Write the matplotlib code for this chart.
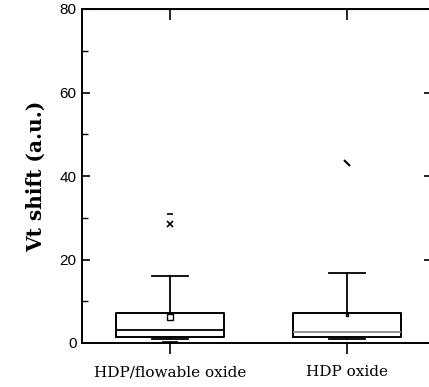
import matplotlib
matplotlib.use("Agg")
import matplotlib.pyplot as plt
from matplotlib.markers import MarkerStyle
from matplotlib.transforms import Affine2D

# box statistics
groups = ['HDP/flowable oxide', 'HDP oxide']
q1 = [1.4, 1.4]
med = [3.1, 2.6]
q3 = [7.2, 7.2]
whislo = [1.0, 1.0]
whishi = [16.0, 16.8]
means = [6.2, 6.7]
pct99 = [28.5]
maxes = [31.0, 43.1]
mins = [0.3]

pos = [1, 2]

fig = plt.figure(figsize=(4.29, 3.87), dpi=100)
ax = fig.add_axes([82/429, 44/387, 350/429, 334/387])

stats = []
for i in range(len(groups)):
    stats.append(dict(q1=q1[i], med=med[i], q3=q3[i], whislo=whislo[i],
                      whishi=whishi[i], mean=means[i], fliers=[]))

bp = ax.bxp(stats, positions=pos, widths=0.605, showmeans=True,
            showfliers=False, patch_artist=False,
            boxprops=dict(color='black', lw=1.4),
            whiskerprops=dict(color='black', lw=1.3),
            capprops=dict(color='black', lw=1.3),
            medianprops=dict(color='black', lw=1.3),
            meanprops=dict(marker='s', markerfacecolor='white',
                           markeredgecolor='black', markersize=4))
bp['medians'][1].set_color('#888888')
bp['means'][1].set_markersize(2)
for c in bp['caps']:
    c.set_xdata([c.get_xdata()[0] + 0.05, c.get_xdata()[1] - 0.05])

# extreme markers
ax.plot(pos[0], pct99[0], 'x', color='black', ms=4, mew=1.2)
ax.plot(pos[0], maxes[0], '_', color='black', ms=5, mew=1.2)
ax.plot(pos[0], mins[0], '_', color='black', ms=12, mew=1.2, clip_on=False)
slash = MarkerStyle('|', transform=Affine2D().rotate_deg(45))
ax.plot(pos[1], maxes[1], marker=slash, color='black', ms=7, mew=1.5, ls='none')

ax.set_xlim(0.503, 2.48)
ax.set_ylim(0, 80)
ax.set_yticks([0, 20, 40, 60, 80])
ax.set_yticks([10, 30, 50, 70], minor=True)
ax.set_xticks(pos)
ax.set_xticklabels(groups, family='DejaVu Serif', fontsize=11)
ax.tick_params(axis='y', direction='in', length=6, width=1.2,
               right=True, labelsize=11, pad=4)
ax.tick_params(axis='y', which='minor', direction='in', length=4,
               width=1.0, right=False)
ax.tick_params(axis='x', direction='out', length=8, width=1.2, pad=8)
top = ax.secondary_xaxis('top')
top.set_xticks(pos)
top.tick_params(direction='in', length=8, width=1.2, labeltop=False)
top.minorticks_off()
for lab in ax.get_yticklabels():
    lab.set_family('Liberation Sans')
ax.set_ylabel('Vt shift (a.u.)', family='DejaVu Serif', fontweight='bold',
              fontsize=14.5, labelpad=10)
for s in ax.spines.values():
    s.set_linewidth(1.4)

fig.savefig('out.png', dpi=100)
